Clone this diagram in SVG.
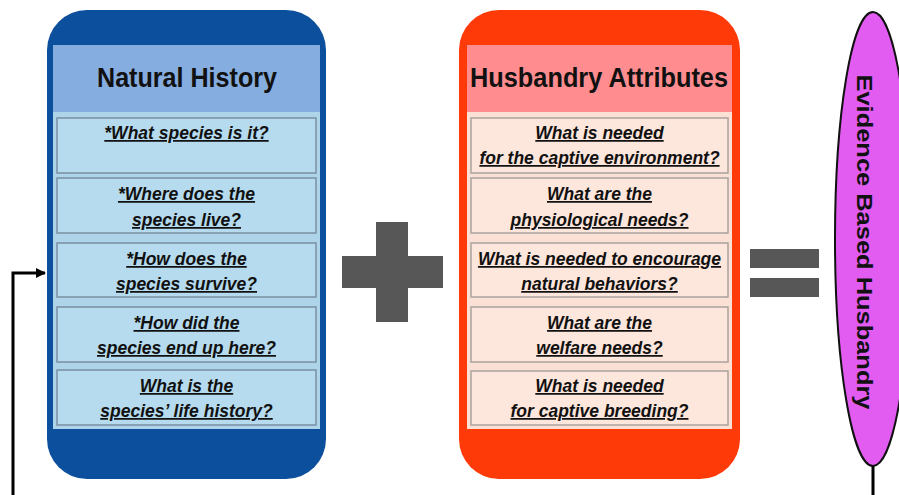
<svg xmlns="http://www.w3.org/2000/svg" width="899" height="495" viewBox="0 0 899 495">
<defs>
<style>
.head{font-family:"Liberation Sans",Arial,sans-serif;font-weight:bold;font-size:28px;fill:#111;text-anchor:middle}
.q{font-family:"Liberation Sans",Arial,sans-serif;font-weight:bold;font-style:italic;font-size:17.5px;fill:#111;text-anchor:middle;text-decoration:underline}
.bitem{fill:#b6dbee;stroke:#7b8fa3;stroke-width:1.5}
.ritem{fill:#fde6dc;stroke:#aaa29e;stroke-width:1.5}
.op{fill:#575757}
.conn{fill:none;stroke:#000;stroke-width:3}
</style>
<marker id="arr" viewBox="0 0 10 10" refX="9" refY="5" markerWidth="10" markerHeight="10" markerUnits="userSpaceOnUse" orient="auto">
<path d="M0,0 L10,5 L0,10 Z" fill="#000"/>
</marker>
</defs>
<rect width="899" height="495" fill="#fff"/>

<g id="natural-history">
<rect x="47" y="10" width="279" height="469" rx="40" fill="#0c4f9d"/>
<rect x="53" y="45" width="267" height="67" fill="#86addf"/>
<rect x="53" y="112" width="267" height="317" fill="#aed4e9"/>
<text class="head" x="187" y="87" textLength="180" lengthAdjust="spacingAndGlyphs">Natural History</text>
<rect class="bitem" x="57" y="118" width="259" height="55"/>
<text class="q" x="186.5" y="139">*What species is it?</text>
<rect class="bitem" x="57" y="178" width="259" height="55"/>
<text class="q" x="186.5" y="200">*Where does the</text>
<text class="q" x="186.5" y="226">species live?</text>
<rect class="bitem" x="57" y="243" width="259" height="54"/>
<text class="q" x="186.5" y="265">*How does the</text>
<text class="q" x="186.5" y="290">species survive?</text>
<rect class="bitem" x="57" y="307" width="259" height="55"/>
<text class="q" x="186.5" y="329">*How did the</text>
<text class="q" x="186.5" y="354">species end up here?</text>
<rect class="bitem" x="57" y="370" width="259" height="55"/>
<text class="q" x="186.5" y="392">What is the</text>
<text class="q" x="186.5" y="417">species’ life history?</text>
</g>

<g id="plus">
<rect class="op" x="376" y="222" width="32" height="100"/>
<rect class="op" x="342" y="256" width="101" height="32"/>
</g>

<g id="husbandry-attributes">
<rect x="459" y="10" width="281" height="469" rx="40" fill="#fe3a08"/>
<rect x="467" y="45" width="265" height="67" fill="#ff8d8f"/>
<rect x="467" y="112" width="265" height="317" fill="#fbe0d6"/>
<text class="head" x="599" y="87" textLength="258" lengthAdjust="spacingAndGlyphs">Husbandry Attributes</text>
<rect class="ritem" x="471" y="118" width="257" height="55"/>
<text class="q" x="599.5" y="139">What is needed</text>
<text class="q" x="599.5" y="164">for the captive environment?</text>
<rect class="ritem" x="471" y="178" width="257" height="55"/>
<text class="q" x="599.5" y="200">What are the</text>
<text class="q" x="599.5" y="226">physiological needs?</text>
<rect class="ritem" x="471" y="243" width="257" height="54"/>
<text class="q" x="599.5" y="265">What is needed to encourage</text>
<text class="q" x="599.5" y="290">natural behaviors?</text>
<rect class="ritem" x="471" y="307" width="257" height="55"/>
<text class="q" x="599.5" y="329">What are the</text>
<text class="q" x="599.5" y="354">welfare needs?</text>
<rect class="ritem" x="471" y="371" width="257" height="54"/>
<text class="q" x="599.5" y="392">What is needed</text>
<text class="q" x="599.5" y="417">for captive breeding?</text>
</g>

<g id="equals">
<rect class="op" x="750" y="249" width="69" height="19"/>
<rect class="op" x="750" y="278" width="69" height="19"/>
</g>

<g id="evidence-based-husbandry">
<ellipse cx="873" cy="239" rx="38" ry="227" fill="#e25cf2" stroke="#111" stroke-width="2"/>
<text transform="translate(857,242) rotate(90)" x="0" y="0" font-family="Liberation Sans, Arial, sans-serif" font-weight="bold" font-size="22" fill="#111" text-anchor="middle" textLength="335" lengthAdjust="spacingAndGlyphs">Evidence Based Husbandry</text>
</g>

<g id="connectors">
<path class="conn" d="M873,466 V505 H13 V273 H45" marker-end="url(#arr)"/>
</g>
</svg>
